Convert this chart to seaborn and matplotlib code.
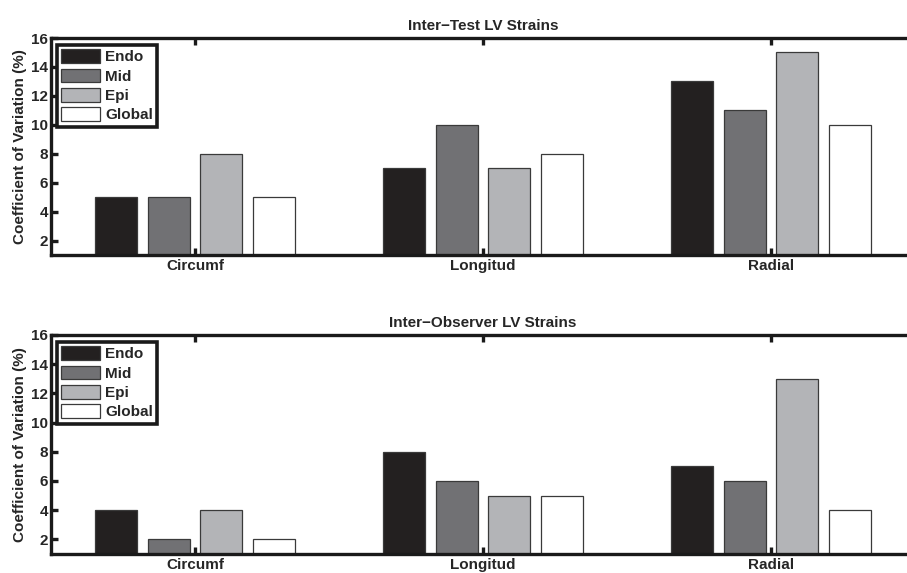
import matplotlib
matplotlib.use("Agg")
import matplotlib.pyplot as plt
import seaborn as sns
import pandas as pd

categories = ["Circumf", "Longitud", "Radial"]
layers = ["Endo", "Mid", "Epi", "Global"]
inter_test = {
    "Endo": [5, 7, 13],
    "Mid": [5, 10, 11],
    "Epi": [8, 7, 15],
    "Global": [5, 8, 10],
}
inter_observer = {
    "Endo": [4, 8, 7],
    "Mid": [2, 6, 6],
    "Epi": [4, 5, 13],
    "Global": [2, 5, 4],
}
titles = ["Inter\u2212Test LV Strains", "Inter\u2212Observer LV Strains"]
yticks = [2, 4, 6, 8, 10, 12, 14, 16]
colors = ["#231f20", "#707175", "#b3b4b7", "#ffffff"]

sns.set_style("white")
plt.rcParams["font.family"] = ["Liberation Sans", "DejaVu Sans"]
plt.rcParams["font.weight"] = "bold"

W, H = 907, 573
fig = plt.figure(figsize=(W / 100, H / 100), dpi=100)

def make_df(d):
    rows = []
    for layer in layers:
        for c, v in zip(categories, d[layer]):
            rows.append({"Strain": c, "Layer": layer, "CV": v})
    return pd.DataFrame(rows)

FS = 11
boxes = [(51, 38, 915, 255), (51, 335, 915, 554)]
for (x0, y0, x1, y1), data, title in zip(boxes, [inter_test, inter_observer], titles):
    ax = fig.add_axes([x0 / W, 1 - y1 / H, (x1 - x0) / W, (y1 - y0) / H])
    df = make_df(data)
    sns.barplot(data=df, x="Strain", y="CV", hue="Layer", order=categories,
                hue_order=layers, palette=colors, width=0.73, gap=0.2,
                edgecolor="#3a3a3a", linewidth=0.9, ax=ax, errorbar=None)
    ax.set_xlim(-0.5, 2.5)
    ax.set_ylim(1, 16)
    ax.set_yticks(yticks)
    ax.set_yticklabels([str(t) for t in yticks], fontsize=FS, fontweight="bold")
    ax.set_xticks(range(len(categories)))
    ax.set_xticklabels(categories, fontsize=FS, fontweight="bold")
    ax.set_xlabel("")
    ax.set_ylabel("Coefficient of Variation (%)", fontsize=FS, fontweight="bold", labelpad=3)
    ax.set_title(title, fontsize=FS, fontweight="bold", pad=6)
    for s in ax.spines.values():
        s.set_visible(True)
        s.set_linewidth(2.4)
        s.set_color("#1a1a1a")
    ax.tick_params(axis="both", direction="in", length=5, width=2.4, color="#1a1a1a",
                   top=True, right=True, left=True, bottom=True, pad=2)
    ax.tick_params(axis="x", pad=3)
    leg = ax.legend(loc="upper left", bbox_to_anchor=(0.0015, 0.99), fancybox=False,
                    frameon=True, handlelength=2.55, handleheight=1.0,
                    labelspacing=0.28, borderpad=0.3, handletextpad=0.3,
                    borderaxespad=0.3, prop={"weight": "bold", "size": FS})
    leg.get_frame().set_edgecolor("#1a1a1a")
    leg.get_frame().set_linewidth(2.6)
    leg.get_frame().set_alpha(1)

fig.savefig("out.png", dpi=100)
